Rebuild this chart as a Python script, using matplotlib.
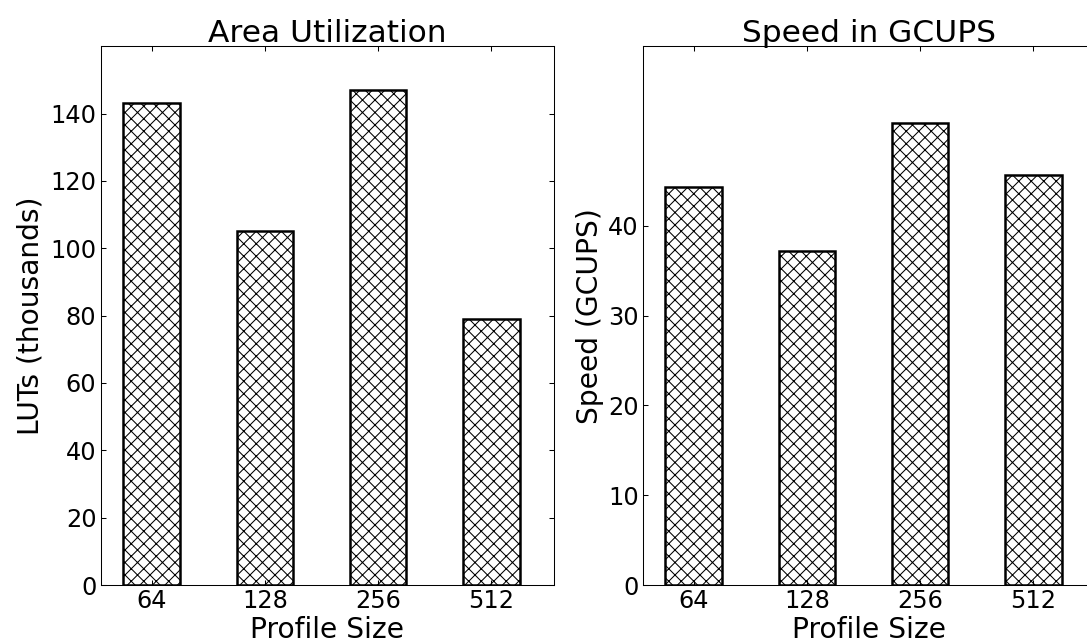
import numpy as np
import matplotlib
matplotlib.use("Agg")
import matplotlib.pyplot as plt

profile_sizes = ["64", "128", "256", "512"]
luts = [143, 105, 147, 79]           # thousands
speed = [44.3, 37.2, 51.5, 45.7]     # GCUPS

plt.rcParams["font.family"] = "DejaVu Sans"
plt.rcParams["font.size"] = 23
plt.rcParams["hatch.linewidth"] = 1.0

fig = plt.figure(figsize=(1087 / 75.0, 643 / 75.0), dpi=75)
ax1 = fig.add_axes([0.0926, 0.0902, 0.4167, 0.838])
ax2 = fig.add_axes([0.5913, 0.0902, 0.4167, 0.838])

x = np.arange(len(profile_sizes))

for ax, vals in ((ax1, luts), (ax2, speed)):
    ax.bar(x, vals, 0.5, color="white", edgecolor="black",
           linewidth=2.4, hatch="xx")
    ax.set_xticks(x)
    ax.set_xticklabels(profile_sizes)
    ax.set_xlim(-0.45, 3.55)
    ax.set_xlabel("Profile Size", fontsize=27, labelpad=3)
    ax.tick_params(direction="in", top=True, right=True, length=5, width=1, pad=4)
    for s in ax.spines.values():
        s.set_linewidth(1.0)

ax1.set_ylim(0, 160)
ax1.set_yticks(np.arange(0, 141, 20))
ax1.set_title("Area Utilization", fontsize=30, pad=4)
ax1.set_ylabel("LUTs (thousands)", fontsize=27, labelpad=6)

ax2.set_ylim(0, 60)
ax2.set_yticks([0, 10, 20, 30, 40])
ax2.set_title("Speed in GCUPS", fontsize=30, pad=4)
ax2.set_ylabel("Speed (GCUPS)", fontsize=27, labelpad=4)

plt.savefig("out.png", dpi=75, facecolor="white")
